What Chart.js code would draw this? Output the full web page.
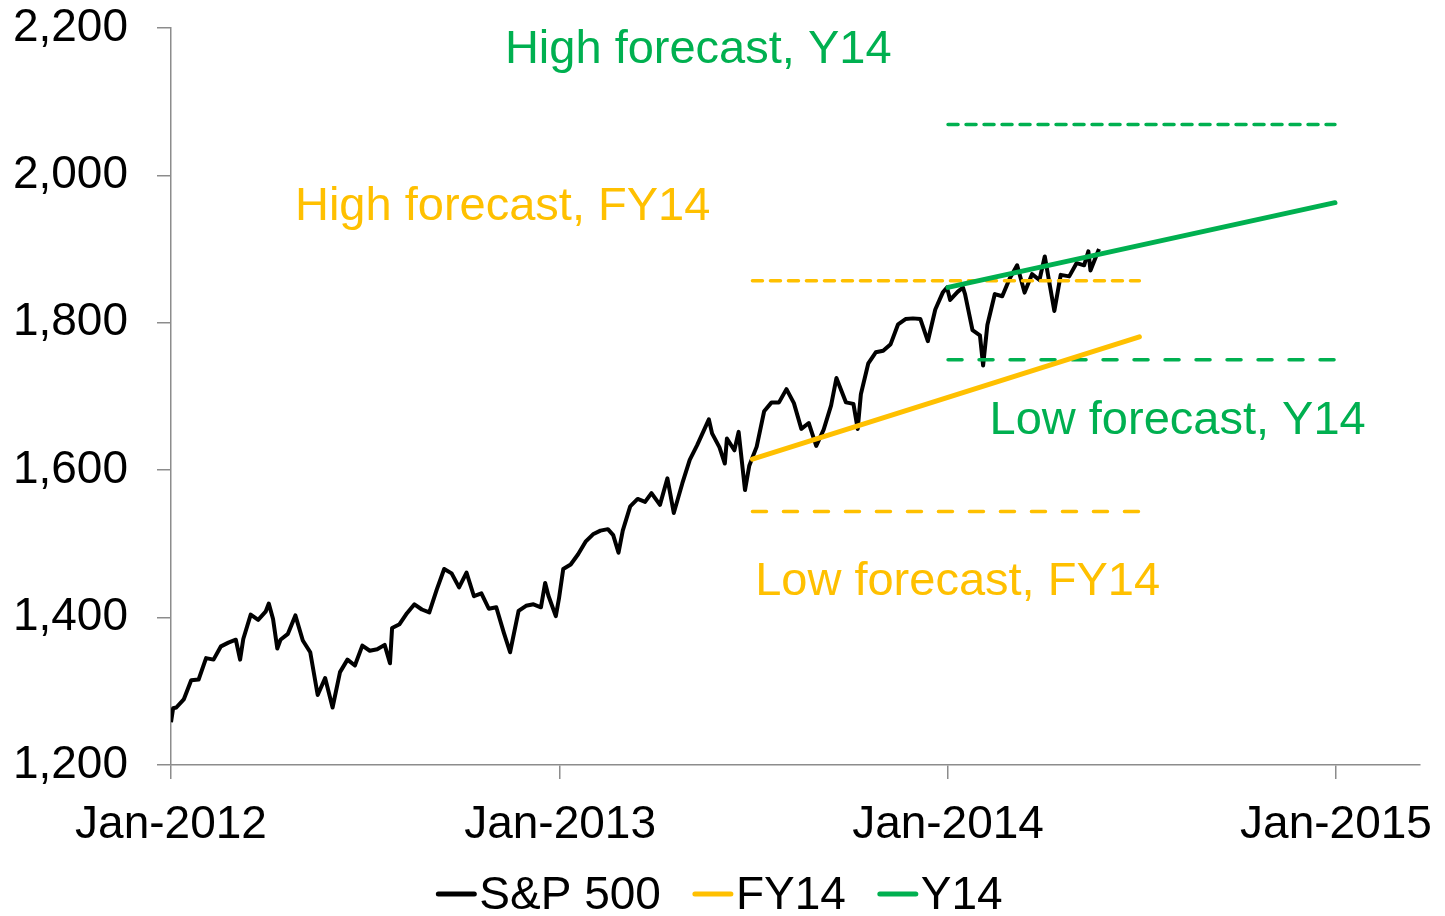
<!DOCTYPE html>
<html>
<head>
<meta charset="utf-8">
<script src="https://cdn.jsdelivr.net/npm/chart.js@4.4.1/dist/chart.umd.min.js"></script>
<style>
  html, body { margin: 0; padding: 0; background: #fff; }
  canvas { display: block; }
</style>
</head>
<body>
<canvas id="chartMain" width="1445" height="916"></canvas>
<script>
// S&P 500 (weekly closes plus a few intraweek turning points)
const spxDates = [
    '2012-01-01', '2012-01-03', '2012-01-06', '2012-01-13', '2012-01-20', '2012-01-27',
    '2012-02-03', '2012-02-10', '2012-02-17', '2012-02-24', '2012-03-02', '2012-03-06',
    '2012-03-09', '2012-03-16', '2012-03-23', '2012-03-30', '2012-04-02', '2012-04-06',
    '2012-04-10', '2012-04-13', '2012-04-20', '2012-04-27', '2012-05-04', '2012-05-11',
    '2012-05-18', '2012-05-25', '2012-06-01', '2012-06-08', '2012-06-15', '2012-06-22',
    '2012-06-29', '2012-07-06', '2012-07-13', '2012-07-20', '2012-07-25', '2012-07-27',
    '2012-08-03', '2012-08-10', '2012-08-17', '2012-08-24', '2012-08-31', '2012-09-07',
    '2012-09-14', '2012-09-21', '2012-09-28', '2012-10-05', '2012-10-12', '2012-10-19',
    '2012-10-26', '2012-11-02', '2012-11-09', '2012-11-15', '2012-11-23', '2012-11-30',
    '2012-12-07', '2012-12-14', '2012-12-18', '2012-12-21', '2012-12-28', '2012-12-31',
    '2013-01-04', '2013-01-11', '2013-01-18', '2013-01-25', '2013-02-01', '2013-02-08',
    '2013-02-15', '2013-02-20', '2013-02-25', '2013-03-01', '2013-03-08', '2013-03-15',
    '2013-03-22', '2013-03-28', '2013-04-05', '2013-04-12', '2013-04-18', '2013-04-26',
    '2013-05-03', '2013-05-10', '2013-05-21', '2013-05-24', '2013-05-31', '2013-06-05',
    '2013-06-07', '2013-06-14', '2013-06-18', '2013-06-24', '2013-06-28', '2013-07-05',
    '2013-07-12', '2013-07-19', '2013-07-26', '2013-08-02', '2013-08-09', '2013-08-16',
    '2013-08-23', '2013-08-30', '2013-09-06', '2013-09-13', '2013-09-18', '2013-09-27',
    '2013-10-04', '2013-10-08', '2013-10-11', '2013-10-18', '2013-10-25', '2013-11-01',
    '2013-11-08', '2013-11-15', '2013-11-22', '2013-11-29', '2013-12-06', '2013-12-13',
    '2013-12-20', '2013-12-27', '2013-12-31', '2014-01-03', '2014-01-10', '2014-01-15',
    '2014-01-17', '2014-01-24', '2014-01-31', '2014-02-03', '2014-02-07', '2014-02-14',
    '2014-02-21', '2014-02-28', '2014-03-07', '2014-03-14', '2014-03-21', '2014-03-28',
    '2014-04-02', '2014-04-11', '2014-04-17', '2014-04-25', '2014-05-02', '2014-05-09',
    '2014-05-13', '2014-05-15', '2014-05-23'
];
const spxValues = [
    1258, 1277, 1278, 1289, 1315, 1316,
    1345, 1343, 1361, 1366, 1370, 1343,
    1371, 1404, 1397, 1408, 1419, 1398,
    1358, 1370, 1378, 1403, 1369, 1353,
    1295, 1318, 1278, 1326, 1343, 1335,
    1362, 1355, 1357, 1363, 1338, 1386,
    1391, 1406, 1418, 1411, 1407, 1438,
    1466, 1460, 1441, 1461, 1429, 1433,
    1412, 1414, 1380, 1353, 1409, 1416,
    1418, 1414, 1447, 1430, 1402, 1426,
    1466, 1472, 1486, 1503, 1513, 1518,
    1520, 1512, 1488, 1518, 1551, 1561,
    1557, 1569, 1553, 1589, 1542, 1582,
    1614, 1634, 1669, 1650, 1631, 1609,
    1643, 1627, 1652, 1573, 1606, 1632,
    1680, 1692, 1692, 1710, 1691, 1656,
    1664, 1633, 1655, 1688, 1725, 1692,
    1690, 1656, 1703, 1745, 1760, 1762,
    1771, 1798, 1805, 1806, 1805, 1775,
    1818, 1841, 1848, 1831, 1842, 1848,
    1839, 1790, 1783, 1742, 1797, 1839,
    1836, 1860, 1878, 1841, 1866, 1858,
    1890, 1816, 1865, 1863, 1881, 1878,
    1897, 1871, 1900
];

// fiscal-year 2014 forecast (Jul-2013 .. Jun-2014)
const fy14Dates = ['2013-07-01', '2014-06-30'];
const fy14Mid = [1615, 1781];
const fy14High = [1857, 1857];
const fy14Low = [1544, 1544];

// calendar-year 2014 forecast
const y14Dates = ['2014-01-01', '2014-12-31'];
const y14Mid = [1848, 1963];
const y14High = [2069, 2069];
const y14Low = [1750, 1750];

const xTickDates = ['2012-01-01', '2013-01-01', '2014-01-01', '2015-01-01'];
const xTickLabels = ['Jan-2012', 'Jan-2013', 'Jan-2014', 'Jan-2015'];

const BLACK = '#000000';
const GOLD = '#FFC000';
const GREEN = '#00B050';
const AXIS = '#8c8c8c';
const FONT = "'Liberation Sans', Arial, sans-serif";

const day = d => (Date.parse(d) - Date.parse('2012-01-01')) / 86400000;
const toXY = (dates, values) => dates.map((d, i) => ({ x: day(d), y: values[i] }));

const annotations = [
    { text: 'High forecast, Y14', color: GREEN, x: '2013-05-11', y: 2170 },
    { text: 'High forecast, FY14', color: GOLD, x: '2012-11-08', y: 1957 },
    { text: 'Low forecast, Y14', color: GREEN, x: '2014-08-05', y: 1667 },
    { text: 'Low forecast, FY14', color: GOLD, x: '2014-01-10', y: 1448 }
];

const textLabels = {
    id: 'textLabels',
    afterDatasetsDraw(chart) {
        const { ctx, scales: { x, y } } = chart;
        ctx.save();
        ctx.font = '47px ' + FONT;
        ctx.textAlign = 'center';
        ctx.textBaseline = 'middle';
        annotations.forEach(a => {
            ctx.fillStyle = a.color;
            ctx.fillText(a.text, x.getPixelForValue(day(a.x)), y.getPixelForValue(a.y));
        });
        ctx.restore();
    }
};

const lineLegend = {
    id: 'lineLegend',
    afterDraw(chart) {
        const { ctx } = chart;
        const items = chart.data.datasets.filter(ds => ds.inLegend);
        const lineW = 40, gapText = 3, gapItem = 32;
        ctx.save();
        ctx.font = '46px ' + FONT;
        ctx.textBaseline = 'middle';
        const widths = items.map(it => lineW + gapText + ctx.measureText(it.label).width);
        const total = widths.reduce((a, b) => a + b, 0) + gapItem * (items.length - 1);
        let xPos = chart.width / 2 - total / 2 - 3;
        const yPos = 894;
        items.forEach((it, i) => {
            ctx.strokeStyle = it.borderColor;
            ctx.lineWidth = 5;
            ctx.lineCap = 'round';
            ctx.beginPath();
            ctx.moveTo(xPos + 2, yPos);
            ctx.lineTo(xPos + lineW - 2, yPos);
            ctx.stroke();
            ctx.fillStyle = '#000';
            ctx.fillText(it.label, xPos + lineW + gapText, yPos + 2);
            xPos += widths[i] + gapItem;
        });
        ctx.restore();
    }
};

new Chart(document.getElementById('chartMain'), {
    type: 'line',
    data: {
        datasets: [
            { label: 'S&P 500', data: toXY(spxDates, spxValues), borderColor: BLACK, borderWidth: 4, order: 2, inLegend: true },
            { label: 'FY14', data: toXY(fy14Dates, fy14Mid), borderColor: GOLD, borderWidth: 5, borderCapStyle: 'round', order: 1, inLegend: true },
            { label: 'Y14', data: toXY(y14Dates, y14Mid), borderColor: GREEN, borderWidth: 5, borderCapStyle: 'round', order: 1, inLegend: true },
            { label: 'FY14 high', data: toXY(fy14Dates, fy14High), borderColor: GOLD, borderWidth: 3.5, borderCapStyle: 'round', borderDash: [10, 8], order: 1 },
            { label: 'FY14 low', data: toXY(fy14Dates, fy14Low), borderColor: GOLD, borderWidth: 3.5, borderCapStyle: 'round', borderDash: [14, 17], order: 1 },
            { label: 'Y14 high', data: toXY(y14Dates, y14High), borderColor: GREEN, borderWidth: 3.5, borderCapStyle: 'round', borderDash: [10, 8], order: 1 },
            { label: 'Y14 low', data: toXY(y14Dates, y14Low), borderColor: GREEN, borderWidth: 3.5, borderCapStyle: 'round', borderDash: [14, 17], order: 1 }
        ]
    },
    options: {
        responsive: false,
        animation: false,
        layout: { padding: { top: 28, right: 25, left: 0, bottom: 61 } },
        elements: { point: { radius: 0 }, line: { tension: 0, borderJoinStyle: 'round' } },
        plugins: { legend: { display: false }, tooltip: { enabled: false } },
        scales: {
            x: {
                type: 'linear',
                min: 0,
                max: day('2015-03-21'),
                afterBuildTicks: scale => { scale.ticks = xTickDates.map(d => ({ value: day(d) })); },
                afterFit: scale => {
                    scale.height = 90;
                    scale.paddingLeft = 0; scale.paddingRight = 0;
                },
                ticks: {
                    autoSkip: false, maxRotation: 0, padding: 19,
                    color: '#000', font: { family: FONT, size: 46 },
                    callback: (v, i) => xTickLabels[i]
                },
                grid: { drawOnChartArea: false, tickLength: 14, color: AXIS, lineWidth: 1.5 },
                border: { color: AXIS, width: 1.5 }
            },
            y: {
                min: 1200,
                max: 2200,
                afterFit: scale => {
                    scale.width = 171;
                    scale.paddingTop = 0; scale.paddingBottom = 0;
                },
                ticks: {
                    stepSize: 200, padding: 29,
                    color: '#000', font: { family: FONT, size: 46 },
                    callback: v => v.toLocaleString('en-US')
                },
                grid: { drawOnChartArea: false, tickLength: 14, color: AXIS, lineWidth: 1.5 },
                border: { color: AXIS, width: 1.5 }
            }
        }
    },
    plugins: [textLabels, lineLegend]
});
</script>
</body>
</html>
